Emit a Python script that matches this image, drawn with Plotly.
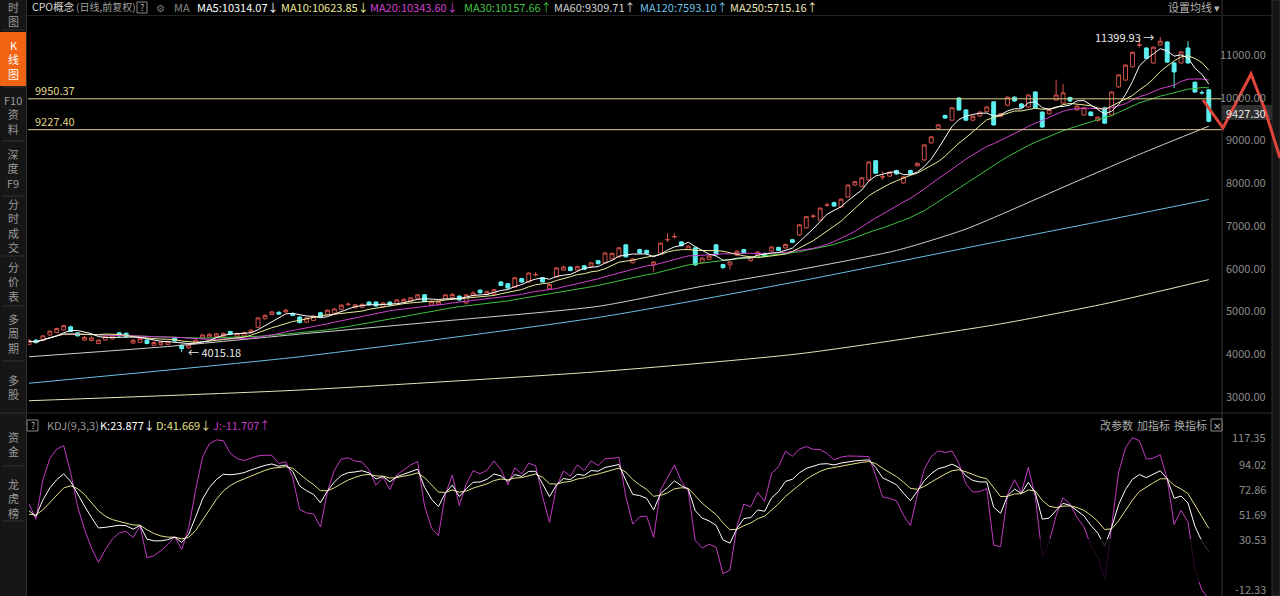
import plotly.graph_objects as go
import pandas as pd

W, H = 1280, 596
L_PX, R_PX = 28, 1222

def px(x):
    return (x - L_PX) / (R_PX - L_PX)

def py(y):
    return (H - y) / H

# ---------------- data ----------------
opens = [4200, 4300, 4290, 4420, 4480, 4540, 4610, 4470, 4300, 4290,
         4220, 4300, 4330, 4470, 4460, 4230, 4250, 4300, 4180, 4190,
         4200, 4360, 4180, 4120, 4240, 4350, 4370, 4380, 4390, 4500,
         4390, 4400, 4480, 4600, 4800, 4900, 4950, 4960, 4920, 4840,
         4720, 4760, 4940, 4900, 4930, 5020, 5135, 5060, 5070, 5190,
         5190, 5080, 5190, 5140, 5190, 5210, 5280, 5360, 5120, 5140,
         5260, 5300, 5330, 5170, 5340, 5470, 5370, 5380, 5660, 5620,
         5540, 5740, 5660, 5825, 5760, 5500, 5780, 5940, 6010, 5940,
         6040, 6030, 6160, 6110, 6200, 6250, 6530, 6110, 6420, 6400,
         6060, 6340, 6645, 6715, 6600, 6420, 6460, 6120, 6190, 6530,
         6070, 6060, 6290, 6420, 6160, 6280, 6330, 6390, 6470, 6460,
         6650, 6760, 6930, 7195, 7110, 7455, 7520, 7420, 7650, 7930,
         7900, 8050, 8500, 8115, 8140, 8270, 7980, 8270, 8380, 8520,
         8920, 9250, 9560, 9450, 9970, 9690, 9450, 9550, 9650, 9880,
         9540, 9800, 9990, 9830, 9760, 10110, 9640, 9600, 9920, 9850,
         9980, 9690, 9570, 9640, 9440, 9740, 9570, 10230, 10390, 10700,
         11205, 11140, 10790, 11210, 11280, 10790, 10790, 11140, 10340, 10095,
         10160]
highs = [4330, 4320, 4420, 4530, 4590, 4660, 4640, 4490, 4400, 4390,
         4320, 4410, 4420, 4490, 4480, 4320, 4360, 4320, 4270, 4280,
         4290, 4380, 4200, 4220, 4320, 4440, 4460, 4470, 4480, 4520,
         4480, 4500, 4550, 4840, 4900, 4980, 4980, 5030, 4950, 4860,
         4840, 4890, 4960, 5020, 5050, 5140, 5180, 5150, 5160, 5210,
         5210, 5190, 5210, 5260, 5280, 5310, 5380, 5380, 5230, 5230,
         5380, 5400, 5350, 5380, 5440, 5490, 5460, 5500, 5680, 5640,
         5780, 5760, 5890, 5900, 5780, 5620, 6010, 6050, 6030, 6040,
         6060, 6130, 6180, 6360, 6350, 6480, 6550, 6220, 6440, 6420,
         6150, 6590, 6800, 6800, 6620, 6520, 6480, 6240, 6290, 6550,
         6090, 6150, 6400, 6440, 6270, 6380, 6350, 6500, 6490, 6560,
         6670, 7020, 7210, 7250, 7410, 7520, 7540, 7620, 7950, 8030,
         8120, 8490, 8520, 8250, 8250, 8290, 8140, 8290, 8460, 8890,
         9080, 9360, 9580, 9760, 9990, 9710, 9560, 9660, 9780, 9900,
         9620, 10010, 10010, 9850, 10060, 10130, 9660, 9720, 10400, 10300,
         10000, 9800, 9760, 9660, 9540, 9760, 10130, 10530, 10760, 11060,
         11350, 11160, 11180, 11399.93, 11300, 10810, 11070, 11300, 10360, 10150,
         10180]
lows = [4180, 4220, 4270, 4400, 4460, 4520, 4490, 4380, 4280, 4270,
        4200, 4280, 4310, 4380, 4360, 4210, 4230, 4200, 4160, 4170,
        4180, 4260, 4015.18, 4100, 4220, 4330, 4350, 4360, 4370, 4410,
        4370, 4380, 4460, 4580, 4780, 4880, 4890, 4940, 4860, 4690,
        4700, 4740, 4830, 4880, 4910, 5000, 5100, 5040, 5050, 5100,
        5080, 5060, 5100, 5120, 5170, 5190, 5260, 5190, 5100, 5120,
        5240, 5280, 5220, 5150, 5320, 5380, 5350, 5360, 5570, 5500,
        5520, 5640, 5640, 5790, 5640, 5480, 5760, 5920, 5910, 5920,
        5940, 6010, 6070, 6090, 6180, 6230, 6230, 6090, 6320, 6290,
        5900, 6320, 6600, 6680, 6490, 6400, 6040, 6100, 6170, 6280,
        5960, 5950, 6270, 6320, 6140, 6260, 6240, 6370, 6380, 6440,
        6570, 6740, 6910, 7150, 7090, 7420, 7420, 7400, 7630, 7910,
        7880, 8030, 8190, 8050, 8120, 8170, 7960, 8180, 8360, 8500,
        8900, 9230, 9480, 9430, 9670, 9430, 9430, 9530, 9630, 9320,
        9520, 9780, 9880, 9730, 9740, 9720, 9270, 9580, 9900, 9830,
        9880, 9670, 9550, 9540, 9420, 9360, 9550, 10210, 10370, 10680,
        11150, 10880, 10770, 11190, 10790, 10200, 10770, 10770, 10090, 10050,
        9400]
closes = [4275, 4240, 4400, 4510, 4570, 4640, 4500, 4400, 4365, 4350,
          4300, 4390, 4400, 4400, 4380, 4295, 4340, 4220, 4245, 4255,
          4265, 4280, 4100, 4190, 4300, 4420, 4435, 4445, 4455, 4440,
          4455, 4475, 4530, 4820, 4880, 4960, 4910, 5000, 4880, 4710,
          4820, 4860, 4850, 5000, 5030, 5120, 5140, 5125, 5135, 5130,
          5100, 5170, 5120, 5240, 5255, 5290, 5360, 5200, 5200, 5205,
          5360, 5370, 5240, 5360, 5405, 5410, 5435, 5480, 5580, 5520,
          5760, 5660, 5870, 5835, 5660, 5600, 5990, 6010, 5930, 6020,
          5960, 6110, 6090, 6340, 6330, 6460, 6250, 6200, 6340, 6335,
          6130, 6570, 6655, 6725, 6510, 6500, 6060, 6220, 6270, 6300,
          6000, 6130, 6380, 6340, 6250, 6360, 6260, 6480, 6400, 6540,
          6590, 7000, 7190, 7205, 7390, 7465, 7440, 7600, 7930, 8010,
          8100, 8470, 8210, 8125, 8230, 8190, 8120, 8200, 8440, 8870,
          9060, 9340, 9500, 9740, 9690, 9450, 9540, 9640, 9760, 9340,
          9600, 9990, 9900, 9750, 10040, 9740, 9290, 9700, 10040, 10090,
          9900, 9780, 9740, 9560, 9520, 9380, 10110, 10510, 10740, 11040,
          11215, 10900, 11160, 11300, 10810, 10580, 11050, 10790, 10110, 10090,
          9427.30]

# long moving averages (candle index -> value)
ma60_idx = [0, 20, 39, 60, 82, 97, 111, 125, 135, 150, 160, 170]
ma60_val = [3910, 4150, 4440, 4750, 5090, 5560, 5950, 6400, 6900, 7950, 8650, 9309.71]
ma120_idx = [0, 39, 82, 111, 140, 155, 170]
ma120_val = [3290, 3910, 4830, 5680, 6620, 7100, 7593.10]
ma250_idx = [0, 39, 82, 111, 140, 155, 170]
ma250_val = [2880, 3130, 3560, 3980, 4680, 5150, 5715.16]

price_ticks = [3000, 4000, 5000, 6000, 7000, 8000, 9000, 10000, 11000]
kdj_ticks = [117.35, 94.02, 72.86, 51.69, 30.53, -12.33]
hlines = [9950.37, 9227.40]

# ---------------- derived series ----------------
idx = list(range(len(closes)))
cs = pd.Series(closes)
hs = pd.Series(highs)
ls = pd.Series(lows)
ma5 = cs.rolling(5, min_periods=1).mean()
ma10 = cs.rolling(10, min_periods=1).mean()
ma20 = cs.rolling(20, min_periods=1).mean()
ma30 = cs.rolling(30, min_periods=1).mean()

llv = ls.rolling(9, min_periods=1).min()
hhv = hs.rolling(9, min_periods=1).max()
rsv = (cs - llv) / (hhv - llv) * 100
K, D, J = [], [], []
k, d = 50.0, 50.0
for r in rsv:
    k = 2 / 3 * k + r / 3
    d = 2 / 3 * d + k / 3
    K.append(k)
    D.append(d)
    J.append(3 * k - 2 * d)

# ---------------- colours ----------------
UP = "#d2524a"
DOWN = "#5ef0f0"
C_MA5 = "#ffffff"
C_MA10 = "#ecec9a"
C_MA20 = "#d040d0"
C_MA30 = "#40c040"
C_MA60 = "#d0d0d0"
C_MA120 = "#6cc0e6"
C_MA250 = "#ece4b8"
FONT = "Noto Sans CJK SC, Liberation Sans, sans-serif"
AX = "#8c8c8c"

fig = go.Figure()
fig.add_trace(go.Candlestick(
    x=idx, open=opens, high=highs, low=lows, close=closes,
    increasing=dict(line=dict(color=UP, width=1), fillcolor="#000000"),
    decreasing=dict(line=dict(color=DOWN, width=1), fillcolor=DOWN),
    whiskerwidth=0, hoverinfo="skip", xaxis="x", yaxis="y"))

for xs, ys, col in [(ma250_idx, ma250_val, C_MA250), (ma120_idx, ma120_val, C_MA120),
                    (ma60_idx, ma60_val, C_MA60)]:
    fig.add_trace(go.Scatter(x=xs, y=ys, mode="lines",
                             line=dict(color=col, width=1, shape="spline", smoothing=0.6),
                             hoverinfo="skip", xaxis="x", yaxis="y"))
for ser, col in [(ma30, C_MA30), (ma20, C_MA20), (ma10, C_MA10), (ma5, C_MA5)]:
    fig.add_trace(go.Scatter(x=idx, y=ser, mode="lines", line=dict(color=col, width=1),
                             hoverinfo="skip", xaxis="x", yaxis="y"))

for ser, col in [(J, "#c23ac2"), (D, "#e6e08a"), (K, "#ffffff")]:
    fig.add_trace(go.Scatter(x=idx, y=ser, mode="lines", line=dict(color=col, width=1),
                             hoverinfo="skip", xaxis="x2", yaxis="y2"))

# horizontal reference lines
shapes = []
for v in hlines:
    shapes.append(dict(type="line", xref="paper", yref="y", x0=0, x1=1, y0=v, y1=v,
                       line=dict(color="#ddd08e", width=1), layer="above"))

# dark smudge in the lower-right of the indicator pane
shapes.append(dict(type="rect", xref="paper", yref="paper", x0=px(1008), x1=px(1238),
                   y0=py(582), y1=py(539), fillcolor="rgba(0,0,0,0.78)", line=dict(width=0),
                   layer="above"))

# frame / panels
shapes += [
    dict(type="rect", xref="paper", yref="paper", x0=px(0), x1=px(26), y0=0, y1=1,
         fillcolor="#161616", line=dict(width=0), layer="above"),
    dict(type="line", xref="paper", yref="paper", x0=px(26.5), x1=px(26.5), y0=0, y1=1,
         line=dict(color="#2e2e2e", width=1)),
    dict(type="line", xref="paper", yref="paper", x0=px(1222), x1=px(1222), y0=0, y1=1,
         line=dict(color="#333333", width=1)),
    dict(type="rect", xref="paper", yref="paper", x0=px(1272), x1=px(1280), y0=0, y1=1,
         fillcolor="#151515", line=dict(color="#333333", width=1)),
    dict(type="line", xref="paper", yref="paper", x0=px(27), x1=px(1272), y0=py(15.5), y1=py(15.5),
         line=dict(color="#222222", width=1)),
    dict(type="line", xref="paper", yref="paper", x0=px(0), x1=px(1272), y0=py(413), y1=py(413),
         line=dict(color="#2e2e2e", width=1)),
    dict(type="rect", xref="paper", yref="paper", x0=px(0), x1=px(26), y0=py(86), y1=py(32),
         fillcolor="#f06414", line=dict(width=0), layer="above"),
]
for sy in [30, 87, 141, 196, 256, 306, 361, 466, 521]:
    shapes.append(dict(type="line", xref="paper", yref="paper", x0=px(2), x1=px(25), y0=py(sy), y1=py(sy),
                       line=dict(color="#303030", width=1), layer="above"))
for (x0, x1, y0, y1) in [(137, 147, 2, 13), (27, 38, 420, 431), (1211, 1222, 419, 431)]:
    shapes.append(dict(type="rect", xref="paper", yref="paper", x0=px(x0), x1=px(x1), y0=py(y1), y1=py(y0),
                       line=dict(color="#8a8a8a", width=1), fillcolor="rgba(0,0,0,0)", layer="above"))
# current price tag
shapes.append(dict(type="rect", xref="paper", yref="paper", x0=px(1222), x1=px(1272), y0=py(120), y1=py(105),
                   fillcolor="#2e2e2e", line=dict(width=0), layer="above"))
# hand-drawn red stroke
pts = [(1203, 100), (1213, 114), (1223, 128), (1237, 101), (1251, 74), (1265, 110), (1280, 158)]
path = "M " + " L ".join(f"{px(a)},{py(b)}" for a, b in pts)
shapes.append(dict(type="path", xref="paper", yref="paper", path=path,
                   line=dict(color="#e0453c", width=3), layer="above"))

ann = []

def txt(x, y, s, color, size=11, xanchor="left", yanchor="middle", yref="paper", xref="paper"):
    ann.append(dict(x=x, y=y, xref=xref, yref=yref, text=s, showarrow=False, xanchor=xanchor,
                    yanchor=yanchor, font=dict(family=FONT, size=size, color=color)))

# header
txt(px(30), py(7), "CPO概念", "#d8d8d8", size=10.5)
txt(px(74), py(7), "(日线,前复权)", "#a0a0a0", size=10)
txt(px(142), py(7.5), "?", "#bbbbbb", size=9, xanchor="center")
txt(px(160), py(8), "⚙", "#7a7a7a", size=10, xanchor="center")
txt(px(172), py(7), "MA", "#8a8a8a")
txt(px(195), py(7), "MA5:10314.07↓", C_MA5)
txt(px(279), py(7), "MA10:10623.85↓", C_MA10)
txt(px(368), py(7), "MA20:10343.60↓", C_MA20)
txt(px(462), py(7), "MA30:10157.66↑", C_MA30)
txt(px(552), py(7), "MA60:9309.71↑", C_MA60)
txt(px(638), py(7), "MA120:7593.10↑", C_MA120)
txt(px(728), py(7), "MA250:5715.16↑", C_MA250)
txt(px(1166), py(7), "设置均线 ▾", "#b0b0b0")

# KDJ header
txt(px(32.5), py(425.5), "?", "#bbbbbb", size=9, xanchor="center")
txt(px(45), py(425), "KDJ(9,3,3)", "#9a9a9a")
txt(px(98), py(425), "K:23.877↓", "#ffffff")
txt(px(154), py(425), "D:41.669↓", "#e6e08a")
txt(px(211), py(425), "J:-11.707↑", "#c23ac2")
txt(px(1098), py(425), "改参数", "#a8a8a8")
txt(px(1135), py(425), "加指标", "#a8a8a8")
txt(px(1172), py(425), "换指标", "#a8a8a8")
txt(px(1216.5), py(425), "✕", "#a8a8a8", size=10, xanchor="center")

# axis labels (right-aligned)
for v in price_ticks:
    txt(px(1268), v, f"{v:.2f}", AX, yref="y", xanchor="right")
for v in kdj_ticks:
    txt(px(1268), v, f"{v:.2f}", AX, yref="y2", xanchor="right")
txt(px(1268), py(112.7), "9427.30", "#e8e8e8", xanchor="right")

# line labels
txt(px(33), py(90), "9950.37", "#e0d48a")
txt(px(33), py(121), "9227.40", "#e0d48a")

# extreme labels
txt(163 - 0.6, 11399.93, "11399.93 →", "#e8e8e8", xref="x", yref="y", xanchor="right")
txt(22 + 0.6, 4015.18, "← 4015.18", "#e8e8e8", xref="x", yref="y", xanchor="left")

# sidebar labels
side = [("时<br>图", 14, "#9a9a9a"), ("K<br>线<br>图", 59, "#ffffff"), ("F10<br>资<br>料", 114, "#9a9a9a"),
        ("深<br>度<br>F9", 169, "#9a9a9a"), ("分<br>时<br>成<br>交", 226, "#9a9a9a"),
        ("分<br>价<br>表", 281, "#9a9a9a"), ("多<br>周<br>期", 333, "#9a9a9a"), ("多<br>股", 387, "#9a9a9a"),
        ("资<br>金", 444, "#9a9a9a"), ("龙<br>虎<br>榜", 498, "#9a9a9a")]
for s, yc, col in side:
    txt(px(13), py(yc), s, col, size=11, xanchor="center")

fig.update_layout(
    width=W, height=H, margin=dict(l=L_PX, r=W - R_PX, t=0, b=0),
    paper_bgcolor="#000000", plot_bgcolor="#000000", showlegend=False,
    shapes=shapes, annotations=ann, hovermode=False, boxgap=0.2,
    xaxis=dict(domain=[0, 1], range=[-0.144, 171.9], showgrid=False, zeroline=False,
               showticklabels=False, rangeslider=dict(visible=False), anchor="y", fixedrange=True),
    xaxis2=dict(domain=[0, 1], range=[-0.144, 171.9], showgrid=False, zeroline=False,
                showticklabels=False, anchor="y2", matches="x"),
    yaxis=dict(domain=[py(410), py(18)], range=[2663, 11843], showgrid=False, zeroline=False,
               showticklabels=False, side="right"),
    yaxis2=dict(domain=[0, py(417)], range=[-18.30, 134.41], showgrid=False, zeroline=False,
                showticklabels=False, side="right"),
)

fig.write_html("out.html")
